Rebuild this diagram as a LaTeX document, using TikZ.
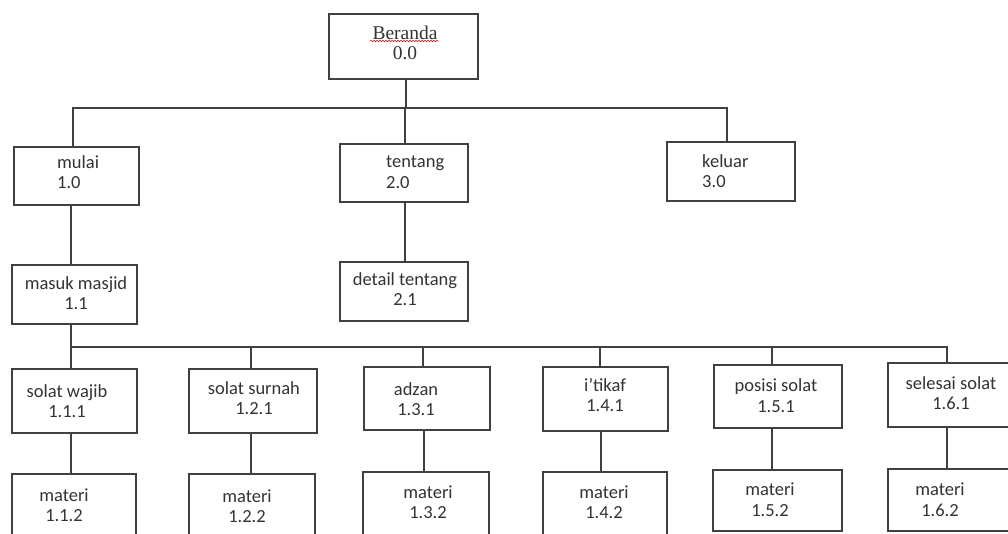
\documentclass[tikz,border=0pt]{standalone}
\usepackage{fontspec}
\setmainfont{Carlito}
\newfontfamily\serifcap{Liberation Serif}
\usetikzlibrary{decorations.pathmorphing}
\definecolor{ink}{HTML}{333333}
\definecolor{edge}{HTML}{404040}
\tikzset{
  box/.style={draw=edge, line width=1.3pt, rectangle, inner sep=0pt, fill=none},
  lbl/.style={text=ink, font=\fontsize{18.5}{20.5}\selectfont, inner sep=0pt, align=center},
  lbll/.style={lbl, align=left, anchor=west},
  conn/.style={draw=edge, line width=1.2pt}
}
\newcommand{\bx}[6]{\node[box, minimum width=#4pt, minimum height=#5pt] (#1) at (#2,#3) {#6};}
\begin{document}
\begin{tikzpicture}[x=1pt,y=-1pt]
\useasboundingbox (0,0) rectangle (1008,533);
\clip (0,0) rectangle (1008,533);
\fill[white] (0,0) rectangle (1008,533);
% boxes
\bx{b00}{403.5}{46.5}{149}{65}{}
\bx{b10}{76.5}{176}{125}{58}{}
\bx{b20}{404}{173}{128}{58}{}
\bx{b30}{731}{171.5}{128}{59}{}
\bx{b11}{74.5}{294.5}{125}{59}{}
\bx{b21}{404}{291.5}{128}{59}{}
\bx{b111}{74.5}{401}{125}{64}{}
\bx{b121}{253}{401}{128}{64}{}
\bx{b131}{427}{398.5}{126}{63}{}
\bx{b141}{605.5}{399}{125}{64}{}
\bx{b151}{778}{396.5}{128}{63}{}
\bx{b161}{952}{395}{128}{64}{}
\bx{b112}{74}{507}{124}{66}{}
\bx{b122}{252}{507}{126}{66}{}
\bx{b132}{426}{506}{126}{68}{}
\bx{b142}{605}{506}{124}{68}{}
\bx{b152}{777.5}{500.5}{129}{61}{}
\bx{b162}{952}{500}{128}{62}{}
% texts
\node[lbl, font=\serifcap\fontsize{19.5}{20.5}\selectfont] (t00) at (405,43) {Beranda\\0.0};
\draw[red!85!black, line width=0.5pt, decorate, decoration={snake, segment length=3pt, amplitude=0.8pt}] (370,41) -- (439,41);
\node[lbll] (t10) at (57,172) {mulai\\1.0};
\node[lbll] (t20) at (386,172) {tentang\\2.0};
\node[lbll] (t30) at (702,171) {keluar\\3.0};
\node[lbl] (t11) at (76,293) {masuk masjid\\1.1};
\node[lbl] (t21) at (405,289) {detail tentang\\2.1};
\node[lbl] (t111) at (67,401) {solat wajib\\1.1.1};
\node[lbl] (t121) at (254,398) {solat surnah\\1.2.1};
\node[lbl] (t131) at (416,399) {adzan\\1.3.1};
\node[lbl] (t141) at (605,395) {i'tikaf\\1.4.1};
\node[lbl] (t151) at (776,395.5) {posisi solat\\1.5.1};
\node[lbl] (t161) at (951,393) {selesai solat\\1.6.1};
\node[lbl] (t112) at (64,505) {materi\\1.1.2};
\node[lbl] (t122) at (247,506) {materi\\1.2.2};
\node[lbl] (t132) at (428,502) {materi\\1.3.2};
\node[lbl] (t142) at (604,502) {materi\\1.4.2};
\node[lbl] (t152) at (770,499.5) {materi\\1.5.2};
\node[lbl] (t162) at (940,499.5) {materi\\1.6.2};
% junctions
\coordinate (j0) at (406,108);
\coordinate (j1) at (73,108);
\coordinate (j2) at (405,108);
\coordinate (j3) at (727,108);
\coordinate (k0) at (71,347);
\coordinate (k1) at (251,347);
\coordinate (k2) at (423,347);
\coordinate (k3) at (600,347);
\coordinate (k4) at (772,347);
\coordinate (k5) at (947,347);
% connectors
\draw[conn] (j0 |- b00.south) -- (j0);
\draw[conn] (j1 |- b10.north) -- (j1) -- (j3) -- (j3 |- b30.north);
\draw[conn] (j2) -- (j2 |- b20.north);
\draw[conn] (k0 |- b10.south) -- (k0 |- b11.north);
\draw[conn] (j2 |- b20.south) -- (j2 |- b21.north);
\draw[conn] (k0 |- b11.south) -- (k0 |- b111.north);
\draw[conn] (k0) -- (k5) -- (k5 |- b161.north);
\draw[conn] (k1) -- (k1 |- b121.north);
\draw[conn] (k2) -- (k2 |- b131.north);
\draw[conn] (k3) -- (k3 |- b141.north);
\draw[conn] (k4) -- (k4 |- b151.north);
\draw[conn] (k0 |- b111.south) -- (k0 |- b112.north);
\draw[conn] (k1 |- b121.south) -- (k1 |- b122.north);
\draw[conn] (424,0 |- b131.south) -- (424,0 |- b132.north);
\draw[conn] (601,0 |- b141.south) -- (601,0 |- b142.north);
\draw[conn] (k4 |- b151.south) -- (k4 |- b152.north);
\draw[conn] (k5 |- b161.south) -- (k5 |- b162.north);
\end{tikzpicture}
\end{document}
